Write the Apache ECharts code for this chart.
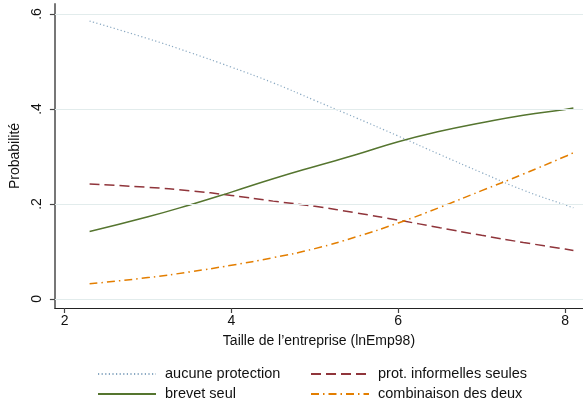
<!DOCTYPE html>
<html>
<head>
<meta charset="utf-8">
<script src="https://cdn.jsdelivr.net/npm/echarts@6/dist/echarts.min.js"></script>
<style>
  html, body { margin: 0; padding: 0; background: #fff; }
  #chart { width: 583px; height: 409px; }
</style>
</head>
<body>
<div id="chart"></div>
<script>
// Firm size (log employment) at which predicted probabilities are evaluated
const tailles = [2.3, 3, 3.5, 4, 4.5, 5, 5.5, 6, 6.5, 7, 7.5, 8, 8.1];

// Predicted probability of each protection strategy
const aucuneProtection = [0.585, 0.548, 0.519, 0.488, 0.455, 0.418, 0.381, 0.343, 0.304, 0.266, 0.229, 0.198, 0.192];
const protInformelles  = [0.242, 0.235, 0.228, 0.218, 0.206, 0.195, 0.181, 0.166, 0.150, 0.134, 0.119, 0.105, 0.102];
const brevetSeul       = [0.142, 0.173, 0.198, 0.225, 0.253, 0.279, 0.304, 0.331, 0.353, 0.371, 0.387, 0.399, 0.402];
const combinaison      = [0.032, 0.045, 0.057, 0.071, 0.087, 0.106, 0.131, 0.160, 0.193, 0.228, 0.263, 0.300, 0.308];

// Axis ticks
const xTicks = [2, 4, 6, 8];
const yTicks = [0, 0.2, 0.4, 0.6];

const FONT = '"Liberation Sans", Arial, sans-serif';
const pairs = ys => tailles.map((x, i) => [x, ys[i]]);
const fmtY = v => (v === 0 ? '0' : String(+v.toFixed(1)).replace(/^0\./, '.'));

const chart = echarts.init(document.getElementById('chart'), null, { renderer: 'canvas' });

// Legend: two columns, line sample only, no marker
const legendBase = {
  orient: 'vertical', top: 366, padding: 0, height: 43,
  itemWidth: 58, itemHeight: 10, itemGap: 4,
  itemStyle: { color: 'rgba(0,0,0,0)', borderWidth: 0, opacity: 0 },
  textStyle: { fontFamily: FONT, fontSize: 14.5, color: '#111', lineHeight: 16, padding: [0, 0, 0, 4] }
};

chart.setOption({
  animation: false,
  backgroundColor: '#ffffff',
  textStyle: { fontFamily: FONT },
  grid: { left: 53, right: 0, top: 4, bottom: 101, containLabel: false },
  xAxis: {
    type: 'value',
    min: 1.884,
    max: 8.215,
    name: 'Taille de l\u2019entreprise (lnEmp98)',
    nameLocation: 'middle',
    nameGap: 26,
    nameTextStyle: { fontFamily: FONT, fontSize: 14, color: '#111' },
    axisLine: { show: true, onZero: false, lineStyle: { color: '#222', width: 1.2 } },
    axisTick: { show: true, length: 5, customValues: xTicks, lineStyle: { color: '#444', width: 1.2 } },
    axisLabel: { customValues: xTicks, fontFamily: FONT, fontSize: 14, color: '#111', margin: 6 },
    splitLine: { show: false }
  },
  yAxis: {
    type: 'value',
    min: -0.019,
    max: 0.621,
    name: 'Probabilit\u00e9',
    nameLocation: 'middle',
    nameGap: 29,
    nameTextStyle: { fontFamily: FONT, fontSize: 14, color: '#111' },
    axisLine: { show: true, onZero: false, lineStyle: { color: '#777', width: 2 } },
    axisTick: { show: true, length: 5, customValues: yTicks, lineStyle: { color: '#444', width: 1.2 } },
    axisLabel: { customValues: yTicks, rotate: 90, formatter: fmtY, fontFamily: FONT, fontSize: 14, color: '#111', margin: 11 },
    splitLine: { show: false }
  },
  legend: [
    Object.assign({ id: 'legA', left: 97, data: ['aucune protection', 'brevet seul'] }, legendBase),
    Object.assign({ id: 'legB', left: 310, data: ['prot. informelles seules', 'combinaison des deux'] }, legendBase)
  ],
  series: [
    {
      name: 'aucune protection', type: 'line', smooth: true, symbol: 'none',
      data: pairs(aucuneProtection),
      color: '#8aa9c2',
      lineStyle: { color: '#8aa9c2', width: 1.2, type: [1.2, 2.4] },
      markLine: {
        silent: true, symbol: 'none', label: { show: false }, animation: false,
        lineStyle: { color: '#e2ecec', width: 1.2, type: 'solid' },
        data: yTicks.map(v => ({ yAxis: v }))
      },
      z: 3
    },
    {
      name: 'prot. informelles seules', type: 'line', smooth: true, symbol: 'none',
      data: pairs(protInformelles),
      color: '#90353b',
      lineStyle: { color: '#90353b', width: 1.5, type: [10, 5] },
      z: 3
    },
    {
      name: 'brevet seul', type: 'line', smooth: true, symbol: 'none',
      data: pairs(brevetSeul),
      color: '#55752f',
      lineStyle: { color: '#55752f', width: 1.5, type: 'solid' },
      z: 3
    },
    {
      name: 'combinaison des deux', type: 'line', smooth: true, symbol: 'none',
      data: pairs(combinaison),
      color: '#e37e00',
      lineStyle: { color: '#e37e00', width: 1.5, type: [8, 4, 1.5, 4] },
      z: 3
    }
  ]
});
</script>
</body>
</html>
